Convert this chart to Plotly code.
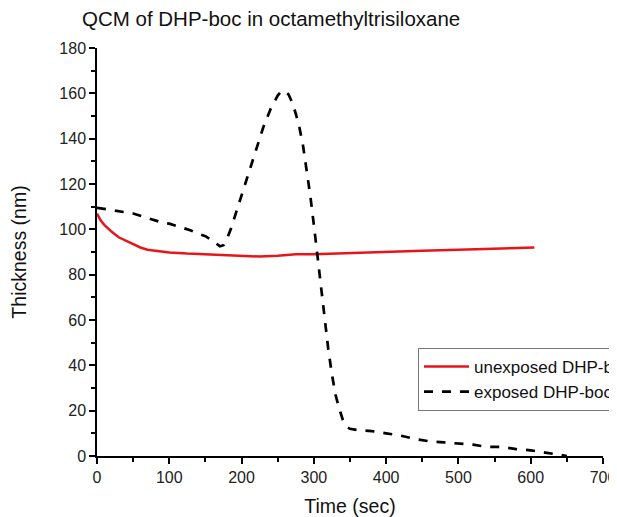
import plotly.graph_objects as go

# Unexposed DHP-boc (red solid)
t_unexposed = [0, 5, 10, 20, 30, 40, 50, 60, 70, 80, 90, 100, 125, 150, 175, 200,
               225, 250, 275, 300, 325, 350, 375, 400, 450, 500, 550, 605]
thk_unexposed = [107, 104, 102, 99, 96.5, 95, 93.5, 92, 91, 90.5, 90, 89.8, 89.3, 89,
                 88.5, 88.3, 88, 88.3, 89, 89, 89.2, 89.5, 89.8, 90, 90.5, 91, 91.5, 92]

# Exposed DHP-boc (black dashed)
t_exposed = [0, 10, 20, 30, 40, 50, 60, 70, 80, 90, 100, 110, 120, 130, 140, 150, 160,
             170, 175, 180, 185, 190, 200, 210, 220, 230, 240, 250, 255, 260, 265, 270,
             275, 280, 285, 290, 295, 300, 305, 310, 315, 320, 325, 330, 335, 340, 345,
             350, 360, 380, 400, 420, 440, 460, 480, 500, 520, 540, 560, 580, 600, 620,
             640, 650]
thk_exposed = [109.5, 109, 108.5, 108, 107.5, 107, 106, 105, 104, 103, 102.5, 101.5,
               100.5, 99.5, 98, 97, 95, 92.5, 93, 96, 100, 105, 115, 126, 136, 145, 153,
               159, 161, 161, 159.5, 156, 151, 145, 137, 127, 115, 102, 88, 73, 60, 47,
               36, 27, 21, 16, 13, 12, 11.5, 11, 10, 9, 7.5, 6.5, 6, 5.5, 5, 4, 4, 3,
               2.5, 1.5, 0.5, 0]

title_text = "QCM of DHP-boc in octamethyltrisiloxane"
x_label = "Time (sec)"
y_label = "Thickness (nm)"
name_unexposed = "unexposed DHP-boc"
name_exposed = "exposed DHP-boc"

FONT = "Liberation Sans, Arial, sans-serif"

# page body has an 8px margin; figure sized to fill the rest of the window
W, H = 609, 509
OFF = 8

fig = go.Figure()
fig.add_trace(go.Scatter(x=t_unexposed, y=thk_unexposed, mode="lines",
                         name=name_unexposed,
                         line=dict(color="#e8141c", width=2.5)))
fig.add_trace(go.Scatter(x=t_exposed, y=thk_exposed, mode="lines",
                         name=name_exposed,
                         line=dict(color="black", width=2.7, dash="dash")))

axis_common = dict(
    showline=True, linecolor="black", linewidth=1.5,
    ticks="outside", ticklen=6, tickwidth=1.5, tickcolor="black",
    showgrid=False, zeroline=False, mirror=False, automargin=False,
    tickfont=dict(family=FONT, size=16, color="#222222"),
)

left, right, top, bottom = 97 - OFF, 14, 48 - OFF, 61
plot_w = W - left - right
plot_h = H - top - bottom

fig.update_layout(
    width=W, height=H,
    paper_bgcolor="white", plot_bgcolor="white",
    margin=dict(l=left, r=right, t=top, b=bottom, autoexpand=False),
    font=dict(family=FONT, color="black"),
    title=dict(text=title_text, x=(82 - OFF)/W, xanchor="left", xref="container",
               y=1-(19 - OFF)/H, yanchor="middle", yref="container",
               font=dict(family=FONT, size=20.5, color="#111111")),
    xaxis=dict(range=[0, 700], tickvals=[0, 100, 200, 300, 400, 500, 600, 700],
               minor=dict(dtick=50, tick0=0, ticklen=4, tickwidth=1.5,
                          tickcolor="black", ticks="outside"),
               title=dict(text=x_label, font=dict(family=FONT, size=19.5, color="#111111"),
                          standoff=14),
               **axis_common),
    yaxis=dict(range=[0, 180], tickvals=list(range(0, 181, 20)),
               minor=dict(dtick=10, tick0=0, ticklen=4, tickwidth=1.5,
                          tickcolor="black", ticks="outside"),
               title=dict(text=y_label, font=dict(family=FONT, size=19.5, color="#111111"),
                          standoff=28),
               **axis_common),
    legend=dict(x=(418-97)/plot_w, xanchor="left", y=(456-348)/plot_h, yanchor="top",
                bgcolor="white", bordercolor="#777777", borderwidth=1,
                font=dict(family=FONT, size=17, color="#111111"),
                itemwidth=45, tracegroupgap=0),
    showlegend=True,
)

fig.write_html("out.html")
